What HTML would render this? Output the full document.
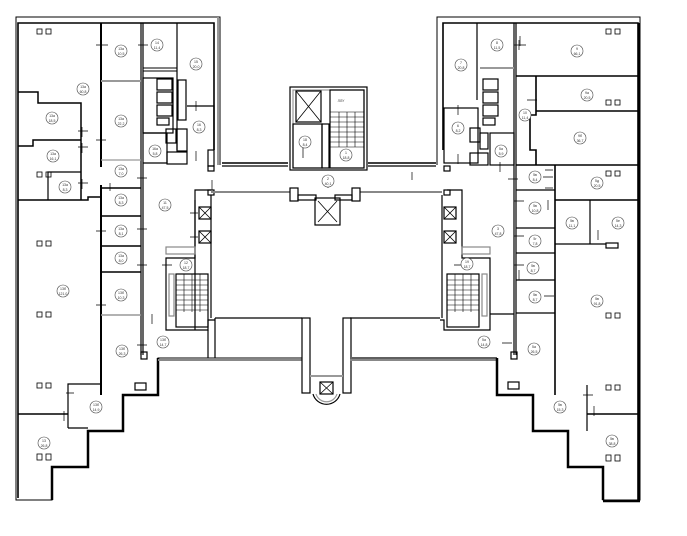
<!DOCTYPE html>
<html><head><style>body{margin:0;background:#fff}svg{display:block}text{font-family:"Liberation Sans",sans-serif;font-size:3.5px;text-anchor:middle;fill:#333}</style></head><body>
<svg width="687" height="536" viewBox="0 0 687 536" xmlns="http://www.w3.org/2000/svg">
<rect width="687" height="536" fill="#fff"/>
<g fill="none" stroke="#000" stroke-width="1.2">
<polyline points="220,165 220,17 16,17 16,500 52,500 52,467 88,467 88,431 123,431 123,395 158,395 158,358 302,358" stroke-width="1"/>
<polyline points="214,150 214,23 18,23 18,498" stroke-width="1.6"/>
<line x1="218" y1="17" x2="218" y2="165" stroke="#999" stroke-width="2"/>
<polyline points="52,500 52,467 88,467 88,431 123,431 123,395 158,395 158,358" stroke-width="2.5"/>
<line x1="158" y1="360" x2="302" y2="360" stroke="#888" stroke-width="2"/>
<line x1="101" y1="23" x2="101" y2="167" stroke-width="2"/>
<line x1="101" y1="185" x2="101" y2="395" stroke-width="2"/>
<line x1="141" y1="23" x2="141" y2="355"/><line x1="143" y1="23" x2="143" y2="355"/>
<line x1="177" y1="23" x2="177" y2="150"/>
<line x1="101" y1="81" x2="141" y2="81" stroke="#999" stroke-width="2"/>
<polyline points="18,92 38,92 38,103 81,103 81,200" stroke-width="1.5"/>
<polyline points="18,146 33,146 33,140 81,140" stroke-width="1.5"/>
<polyline points="48,200 48,172 81,172"/>
<polyline points="18,200 88,200 88,197 100,197" stroke-width="1.5"/>
<line x1="101" y1="160" x2="141" y2="160" stroke="#999"/>
<line x1="101" y1="188" x2="141" y2="188" stroke-width="1.5"/>
<line x1="101" y1="216" x2="141" y2="216" stroke-width="1.5"/>
<line x1="101" y1="246" x2="141" y2="246" stroke-width="1.5"/>
<line x1="101" y1="272" x2="141" y2="272" stroke-width="1.5"/>
<line x1="101" y1="315" x2="141" y2="315" stroke="#999" stroke-width="1.5"/>
<line x1="18" y1="414" x2="68" y2="414" stroke-width="1.5"/>
<polyline points="68,428 68,384 101,384"/><line x1="68" y1="428" x2="88" y2="428"/>
<rect x="143" y="68" width="34" height="3" stroke-width="1"/>
<rect x="143" y="78" width="30" height="55"/>
<rect x="157" y="79" width="15" height="11"/><rect x="157" y="92" width="15" height="11"/><rect x="157" y="105" width="15" height="11"/><rect x="157" y="118" width="12" height="7"/>
<rect x="178" y="80" width="8" height="40"/>
<polyline points="143,133 167,133 167,163 143,163"/>
<rect x="166" y="129" width="10" height="14"/><rect x="177" y="129" width="10" height="22"/><rect x="167" y="152" width="20" height="12"/>
<polyline points="187,106 214,106 214,150"/>
<rect x="208" y="150" width="6" height="16"/>
<rect x="208" y="166" width="6" height="5"/><rect x="208" y="190" width="6" height="5"/>
<polyline points="211,190 195,190 195,258 166,258 166,330 208,330 208,320 215,320"/>
<line x1="195" y1="200" x2="195" y2="330"/>
<line x1="211" y1="195" x2="211" y2="318"/>
<line x1="215" y1="318" x2="215" y2="358"/><line x1="208" y1="330" x2="208" y2="358"/>
<rect x="166" y="247" width="29" height="7" stroke="#888"/>
<rect x="169" y="274" width="5" height="42" stroke="#888"/>
<rect x="176" y="274" width="32" height="53"/>
<g stroke-width="0.6"><line x1="176" y1="280" x2="208" y2="280"/><line x1="176" y1="285" x2="208" y2="285"/><line x1="176" y1="290" x2="208" y2="290"/><line x1="176" y1="295" x2="208" y2="295"/><line x1="176" y1="300" x2="208" y2="300"/><line x1="176" y1="305" x2="208" y2="305"/><line x1="176" y1="310" x2="208" y2="310"/><line x1="184" y1="274" x2="184" y2="312"/><line x1="192" y1="274" x2="192" y2="312"/><line x1="200" y1="274" x2="200" y2="312"/></g>
<rect x="141" y="352" width="6" height="7"/><rect x="199" y="207" width="12" height="12"/><rect x="199" y="231" width="12" height="12"/>
<path d="M199,207 L211,219 M211,207 L199,219 M199,231 L211,243 M211,231 L199,243" stroke-width="0.8"/>
<line x1="222" y1="163" x2="288" y2="163" stroke-width="1.6"/><line x1="222" y1="166" x2="288" y2="166"/>
<line x1="368" y1="163" x2="436" y2="163" stroke-width="1.6"/><line x1="368" y1="166" x2="436" y2="166"/>
<line x1="211" y1="192" x2="290" y2="192" stroke="#888" stroke-width="2"/>
<line x1="360" y1="192" x2="442" y2="192" stroke="#888" stroke-width="2"/>
<rect x="290" y="87" width="77" height="83"/>
<rect x="293" y="90" width="71" height="78" stroke="#999"/>
<rect x="296" y="91" width="25" height="31"/><path d="M296,91 L321,122 M321,91 L296,122" stroke-width="0.8"/>
<rect x="293" y="124" width="29" height="44"/><rect x="322" y="124" width="7" height="44"/>
<rect x="330" y="90" width="34" height="78"/>
<g stroke-width="0.6"><line x1="330" y1="112" x2="364" y2="112"/><line x1="330" y1="117" x2="364" y2="117"/><line x1="330" y1="122" x2="364" y2="122"/><line x1="330" y1="127" x2="364" y2="127"/><line x1="330" y1="132" x2="364" y2="132"/><line x1="330" y1="137" x2="364" y2="137"/><line x1="330" y1="142" x2="364" y2="142"/><line x1="330" y1="147" x2="364" y2="147"/><line x1="339" y1="112" x2="339" y2="147"/><line x1="347" y1="112" x2="347" y2="147"/><line x1="355" y1="112" x2="355" y2="147"/></g>
<rect x="290" y="188" width="8" height="13"/><rect x="352" y="188" width="8" height="13"/>
<rect x="298" y="195" width="18" height="5"/><rect x="335" y="195" width="17" height="5"/>
<rect x="315" y="198" width="25" height="27"/><path d="M318,201 L337,222 M337,201 L318,222" stroke-width="0.8"/>
<line x1="215" y1="318" x2="302" y2="318"/><line x1="350" y1="318" x2="440" y2="318"/>
<rect x="302" y="318" width="8" height="75"/><rect x="343" y="318" width="8" height="75"/>
<line x1="310" y1="376" x2="343" y2="376" stroke="#999" stroke-width="2"/>
<rect x="320" y="382" width="13" height="12"/><path d="M320,382 L333,394 M333,382 L320,394" stroke-width="0.8"/>
<path d="M313,394 A14,14 0 0 0 340,394" stroke-width="1.2"/><path d="M316,394 A11,11 0 0 0 337,394" stroke="#999"/>
<line x1="350" y1="360" x2="497" y2="360" stroke="#888" stroke-width="2"/>
<line x1="352" y1="358" x2="497" y2="358"/>
<polyline points="437,165 437,17 640,17 640,500 603,500 603,467 568,467 568,431 533,431 533,395 497,395 497,358" stroke-width="1"/>
<polyline points="443,150 443,23 638,23 638,500" stroke-width="1.6"/>
<line x1="639" y1="23" x2="639" y2="500" stroke-width="2.5"/>
<polyline points="603,500 603,467 568,467 568,431 533,431 533,395 497,395 497,358" stroke-width="2.5"/>
<line x1="603" y1="501" x2="640" y2="501" stroke-width="2.5"/>
<line x1="514" y1="23" x2="514" y2="355"/><line x1="516" y1="23" x2="516" y2="355"/>
<line x1="477" y1="23" x2="477" y2="100"/>
<line x1="480" y1="68" x2="514" y2="68" stroke="#999" stroke-width="2"/>
<line x1="516" y1="76" x2="638" y2="76" stroke-width="1.6"/>
<line x1="536" y1="111" x2="638" y2="111" stroke-width="1.6"/>
<polyline points="536,76 536,115 530,115 530,150 536,150 536,165" stroke-width="1.6"/>
<line x1="516" y1="165" x2="638" y2="165" stroke-width="1.6"/>
<line x1="555" y1="165" x2="555" y2="395" stroke-width="1.6"/>
<line x1="516" y1="190" x2="555" y2="190"/>
<line x1="555" y1="200" x2="638" y2="200" stroke-width="1.6"/>
<line x1="516" y1="228" x2="555" y2="228"/>
<line x1="516" y1="253" x2="555" y2="253"/>
<line x1="590" y1="200" x2="590" y2="244"/>
<line x1="555" y1="244" x2="606" y2="244"/>
<line x1="516" y1="280" x2="555" y2="280"/>
<line x1="516" y1="313" x2="555" y2="313"/>
<line x1="587" y1="414" x2="638" y2="414" stroke-width="1.6"/>
<line x1="587" y1="385" x2="587" y2="431"/>
<rect x="444" y="108" width="34" height="55"/>
<rect x="483" y="79" width="15" height="11"/><rect x="483" y="92" width="15" height="11"/><rect x="483" y="105" width="15" height="11"/><rect x="483" y="118" width="12" height="7"/>
<rect x="470" y="128" width="10" height="14"/><rect x="480" y="133" width="8" height="16"/>
<rect x="470" y="153" width="18" height="12"/>
<rect x="490" y="133" width="24" height="32"/>
<rect x="444" y="166" width="6" height="5"/><rect x="444" y="190" width="6" height="5"/>
<polyline points="447,190 462,190 462,258 490,258 490,330 444,330 444,320 440,320"/>
<line x1="442" y1="195" x2="442" y2="318"/>
<rect x="462" y="247" width="28" height="7" stroke="#888"/>
<rect x="482" y="274" width="5" height="42" stroke="#888"/>
<rect x="447" y="274" width="32" height="53"/>
<g stroke-width="0.6"><line x1="447" y1="280" x2="479" y2="280"/><line x1="447" y1="285" x2="479" y2="285"/><line x1="447" y1="290" x2="479" y2="290"/><line x1="447" y1="295" x2="479" y2="295"/><line x1="447" y1="300" x2="479" y2="300"/><line x1="447" y1="305" x2="479" y2="305"/><line x1="447" y1="310" x2="479" y2="310"/><line x1="455" y1="274" x2="455" y2="312"/><line x1="463" y1="274" x2="463" y2="312"/><line x1="471" y1="274" x2="471" y2="312"/></g>
<line x1="490" y1="314" x2="514" y2="314"/>
<rect x="511" y="352" width="6" height="7"/>
<rect x="444" y="207" width="12" height="12"/><rect x="444" y="231" width="12" height="12"/>
<path d="M444,207 L456,219 M456,207 L444,219 M444,231 L456,243 M456,231 L444,243" stroke-width="0.8"/>
<rect x="508" y="382" width="11" height="7"/><rect x="135" y="383" width="11" height="7"/>
<rect x="606" y="243" width="12" height="5"/>
</g>
<g fill="none" stroke="#000" stroke-width="0.8">
<rect x="37" y="29" width="5" height="5"/><rect x="46" y="29" width="5" height="5"/>
<rect x="37" y="241" width="5" height="5"/><rect x="46" y="241" width="5" height="5"/>
<rect x="37" y="312" width="5" height="5"/><rect x="46" y="312" width="5" height="5"/>
<rect x="37" y="383" width="5" height="5"/><rect x="46" y="383" width="5" height="5"/>
<rect x="37" y="454" width="5" height="6"/><rect x="46" y="454" width="5" height="6"/>
<rect x="37" y="172" width="5" height="5"/><rect x="46" y="172" width="5" height="5"/>
<rect x="606" y="29" width="5" height="5"/><rect x="615" y="29" width="5" height="5"/>
<rect x="606" y="100" width="5" height="5"/><rect x="615" y="100" width="5" height="5"/>
<rect x="606" y="171" width="5" height="5"/><rect x="615" y="171" width="5" height="5"/>
<rect x="606" y="313" width="5" height="5"/><rect x="615" y="313" width="5" height="5"/>
<rect x="606" y="385" width="5" height="5"/><rect x="615" y="385" width="5" height="5"/>
<rect x="606" y="455" width="5" height="6"/><rect x="615" y="455" width="5" height="6"/>
</g>
<!-- door ticks -->
<g stroke="#000" stroke-width="0.7">
<path d="M96,45 h12 M101,40 v10 M138,45 h10 M141,40 v10 M78,131 h10 M82,127 v10 M78,147 h10 M82,143 v10 M96,140 h10 M78,183 h10 M82,179 v10 M110,183 v8 M137,178 h10 M141,173 v10 M137,229 h10 M141,224 v10 M96,231 h10 M196,101 v10 M196,151 v10 M212,180 v10 M190,213 h8 M190,237 h8 M137,265 h10 M162,265 h10 M96,305 h10 M152,314 v10 M137,345 h10 M141,340 v10 M64,411 v10 M66,393 h8 M303,148 v10 M328,178 v10"/>
<path d="M514,45 h12 M519,40 v10 M520,36 v10 M527,100 h10 M458,105 v10 M458,154 v10 M500,162 v10 M508,179 h10 M545,170 h8 M545,188 h8 M543,177 h10 M514,201 h10 M514,236 h10 M548,200 v10 M598,230 v10 M519,270 v10 M514,265 h10 M454,265 h10 M479,314 v10 M502,343 h10 M544,296 h10 M583,395 h10 M594,406 v10 M412,172 v8"/>
</g>
<g fill="#fff" stroke="#444" stroke-width="0.6">
<circle cx="121" cy="51" r="6"/><circle cx="157" cy="45" r="6"/><circle cx="196" cy="64" r="6"/><circle cx="83" cy="89" r="6"/><circle cx="121" cy="121" r="6"/><circle cx="52" cy="118" r="6"/><circle cx="53" cy="156" r="6"/><circle cx="65" cy="187" r="6"/><circle cx="121" cy="171" r="6"/><circle cx="121" cy="200" r="6"/><circle cx="121" cy="231" r="6"/><circle cx="121" cy="258" r="6"/><circle cx="165" cy="205" r="6"/><circle cx="186" cy="265" r="6"/><circle cx="199" cy="127" r="6"/><circle cx="155" cy="151" r="6"/><circle cx="63" cy="291" r="6"/><circle cx="121" cy="295" r="6"/><circle cx="122" cy="351" r="6"/><circle cx="163" cy="342" r="6"/><circle cx="96" cy="407" r="6"/><circle cx="44" cy="443" r="6"/>
<circle cx="305" cy="142" r="6"/><circle cx="346" cy="155" r="6"/><circle cx="328" cy="181" r="6"/>
<circle cx="461" cy="65" r="6"/><circle cx="497" cy="45" r="6"/><circle cx="577" cy="51" r="6"/><circle cx="587" cy="95" r="6"/><circle cx="525" cy="115" r="6"/><circle cx="580" cy="138" r="6"/><circle cx="458" cy="128" r="6"/><circle cx="501" cy="151" r="6"/><circle cx="535" cy="177" r="6"/><circle cx="597" cy="183" r="6"/><circle cx="535" cy="208" r="6"/><circle cx="572" cy="223" r="6"/><circle cx="618" cy="223" r="6"/><circle cx="498" cy="231" r="6"/><circle cx="535" cy="241" r="6"/><circle cx="467" cy="264" r="6"/><circle cx="533" cy="268" r="6"/><circle cx="535" cy="297" r="6"/><circle cx="597" cy="301" r="6"/><circle cx="484" cy="342" r="6"/><circle cx="534" cy="349" r="6"/><circle cx="560" cy="407" r="6"/><circle cx="612" cy="441" r="6"/>
</g>
<g>
<text x="121" y="50">13а</text><text x="121" y="55">10,5</text>
<text x="157" y="44">14</text><text x="157" y="49">11,4</text>
<text x="196" y="63">15</text><text x="196" y="68">20,0</text>
<text x="83" y="88">13а</text><text x="83" y="93">60,8</text>
<text x="121" y="120">13а</text><text x="121" y="125">22,2</text>
<text x="52" y="117">13а</text><text x="52" y="122">18,5</text>
<text x="53" y="155">13а</text><text x="53" y="160">16,1</text>
<text x="65" y="186">13а</text><text x="65" y="191">8,3</text>
<text x="121" y="170">13а</text><text x="121" y="175">7,0</text>
<text x="121" y="199">13а</text><text x="121" y="204">8,3</text>
<text x="121" y="230">13а</text><text x="121" y="235">8,1</text>
<text x="121" y="257">13а</text><text x="121" y="262">8,0</text>
<text x="165" y="204">11</text><text x="165" y="209">47,5</text>
<text x="186" y="264">12</text><text x="186" y="269">18,7</text>
<text x="199" y="126">16</text><text x="199" y="131">8,3</text>
<text x="155" y="150">16а</text><text x="155" y="155">5,8</text>
<text x="63" y="290">13б</text><text x="63" y="295">121,0</text>
<text x="121" y="294">13б</text><text x="121" y="299">10,3</text>
<text x="122" y="350">13б</text><text x="122" y="355">26,3</text>
<text x="163" y="341">13б</text><text x="163" y="346">14,7</text>
<text x="96" y="406">13б</text><text x="96" y="411">14,9</text>
<text x="44" y="442">13</text><text x="44" y="447">26,8</text>
<text x="305" y="141">18</text><text x="305" y="146">8,4</text>
<text x="346" y="154">1</text><text x="346" y="159">18,8</text>
<text x="328" y="180">2</text><text x="328" y="185">40,1</text>
<text x="461" y="64">7</text><text x="461" y="69">20,8</text>
<text x="497" y="44">8</text><text x="497" y="49">11,5</text>
<text x="577" y="50">9</text><text x="577" y="55">66,1</text>
<text x="587" y="94">9а</text><text x="587" y="99">20,5</text>
<text x="525" y="114">10</text><text x="525" y="119">11,4</text>
<text x="580" y="137">9б</text><text x="580" y="142">36,7</text>
<text x="458" y="127">6</text><text x="458" y="132">8,2</text>
<text x="501" y="150">5а</text><text x="501" y="155">5,9</text>
<text x="535" y="176">5в</text><text x="535" y="181">8,4</text>
<text x="597" y="182">5д</text><text x="597" y="187">20,5</text>
<text x="535" y="207">5в</text><text x="535" y="212">10,8</text>
<text x="572" y="222">5в</text><text x="572" y="227">11,1</text>
<text x="618" y="222">5е</text><text x="618" y="227">14,3</text>
<text x="498" y="230">3</text><text x="498" y="235">47,8</text>
<text x="535" y="240">5г</text><text x="535" y="245">7,8</text>
<text x="467" y="263">19</text><text x="467" y="268">18,7</text>
<text x="533" y="267">5в</text><text x="533" y="272">8,7</text>
<text x="535" y="296">5в</text><text x="535" y="301">8,7</text>
<text x="597" y="300">5в</text><text x="597" y="305">91,8</text>
<text x="484" y="341">5а</text><text x="484" y="346">14,8</text>
<text x="534" y="348">5а</text><text x="534" y="353">26,5</text>
<text x="560" y="406">5в</text><text x="560" y="411">15,3</text>
<text x="612" y="440">5в</text><text x="612" y="445">38,8</text>
<text x="341" y="102">ЛЛУ</text>
</g>
</svg>
</body></html>
